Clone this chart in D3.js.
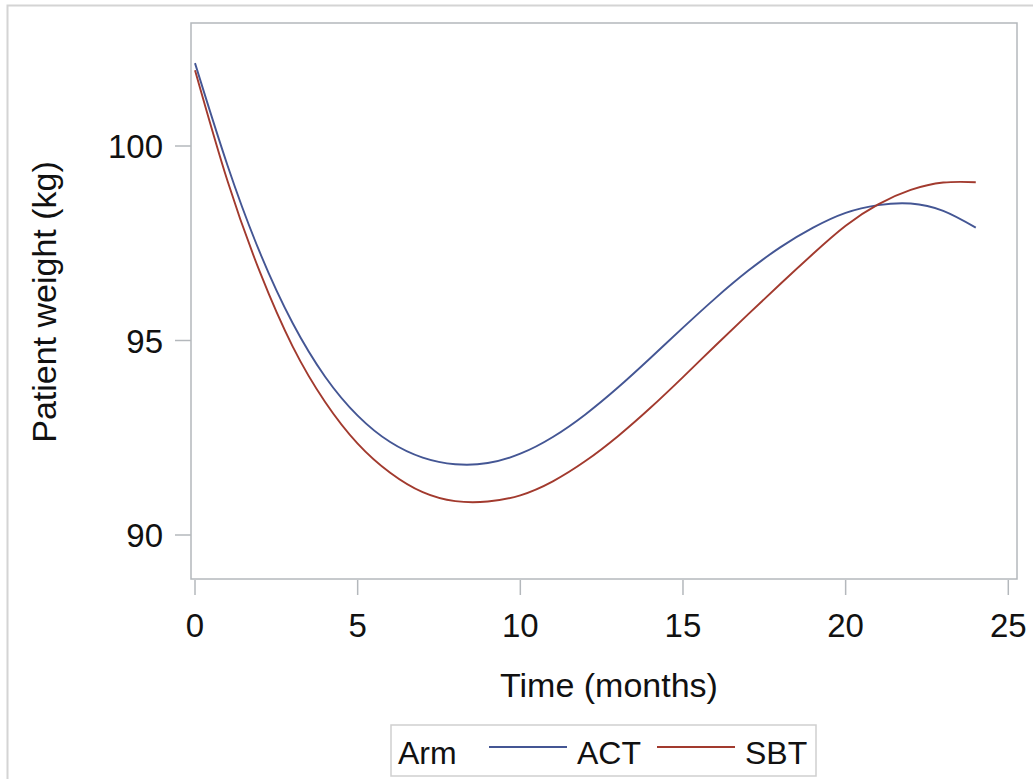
<!DOCTYPE html>
<html>
<head>
<meta charset="utf-8">
<script src="https://cdn.jsdelivr.net/npm/d3@7"></script>
<style>
  html, body { margin: 0; padding: 0; background: #fff; }
  svg text { font-family: "Liberation Sans", Arial, sans-serif; fill: #111; }
</style>
</head>
<body>
<div id="chart"></div>
<script>
// Months where the fitted curves were read
const months = [0, 1, 2, 3, 4, 5, 6, 7, 8, 9, 10, 11, 12, 13, 14, 15, 16, 17, 18, 19, 20, 21, 22, 23, 24];
// Arm ACT fitted patient weight (kg)
const actWeight = [102.13, 99.50, 97.25, 95.45, 94.07, 93.07, 92.39, 91.99, 91.82, 91.85, 92.09, 92.52, 93.10,
  93.79, 94.55, 95.33, 96.09, 96.79, 97.40, 97.90, 98.28, 98.48, 98.52, 98.33, 97.90];
// Arm SBT fitted patient weight (kg)
const sbtWeight = [101.95, 99.10, 96.75, 94.85, 93.42, 92.35, 91.60, 91.10, 90.87, 90.86, 91.02, 91.38, 91.90,
  92.54, 93.27, 94.06, 94.87, 95.67, 96.46, 97.23, 97.95, 98.50, 98.87, 99.06, 99.07];

const xTicks = [0, 5, 10, 15, 20, 25];
const yTicks = [90, 95, 100];
const armNames = ['ACT', 'SBT'];
const armColors = ['#445694', '#A23A2E'];

const width = 1033;
const height = 779;
// plot frame
const frame = {left: 191, top: 23, right: 1017, bottom: 579};

const svg = d3.select('#chart').append('svg')
  .attr('width', width)
  .attr('height', height);

// outer graph border (runs off the right/bottom edge)
svg.append('rect')
  .attr('x', 7.5).attr('y', 5.5)
  .attr('width', width + 20).attr('height', height + 20)
  .style('fill', 'none')
  .style('stroke', '#d4d4d4')
  .style('stroke-width', 2);

const xScale = d3.scaleLinear()
  .domain([0, 25])
  .range([195, 1008.3]);
const yScale = d3.scaleLinear()
  .domain([90, 100])
  .range([535, 146]);

// plot frame
svg.append('rect')
  .attr('x', frame.left).attr('y', frame.top)
  .attr('width', frame.right - frame.left).attr('height', frame.bottom - frame.top)
  .style('fill', 'none')
  .style('stroke', '#b4b8bc')
  .style('stroke-width', 1.5);

// x axis ticks + labels
const xAxis = svg.append('g').attr('class', 'x axis');
xAxis.selectAll('line')
  .data(xTicks)
  .enter().append('line')
  .attr('x1', (d) => xScale(d)).attr('x2', (d) => xScale(d))
  .attr('y1', frame.bottom + 1).attr('y2', frame.bottom + 16)
  .style('stroke', '#b4b8bc').style('stroke-width', 1.5);
xAxis.selectAll('text')
  .data(xTicks)
  .enter().append('text')
  .attr('x', (d) => xScale(d))
  .attr('y', 637)
  .attr('text-anchor', 'middle')
  .style('font-size', '33px')
  .text((d) => d);

// y axis ticks + labels
const yAxis = svg.append('g').attr('class', 'y axis');
yAxis.selectAll('line')
  .data(yTicks)
  .enter().append('line')
  .attr('x1', frame.left - 16).attr('x2', frame.left)
  .attr('y1', (d) => yScale(d)).attr('y2', (d) => yScale(d))
  .style('stroke', '#b4b8bc').style('stroke-width', 1.5);
yAxis.selectAll('text')
  .data(yTicks)
  .enter().append('text')
  .attr('x', frame.left - 28)
  .attr('y', (d) => yScale(d) + 12)
  .attr('text-anchor', 'end')
  .style('font-size', '33px')
  .text((d) => d);

// axis titles
svg.append('text')
  .attr('x', (frame.left + frame.right) / 2 + 5)
  .attr('y', 697)
  .attr('text-anchor', 'middle')
  .style('font-size', '34px')
  .text('Time (months)');
svg.append('text')
  .attr('transform', 'translate(56,' + ((frame.top + frame.bottom) / 2 + 1) + ') rotate(-90)')
  .attr('text-anchor', 'middle')
  .style('font-size', '34px')
  .text('Patient weight (kg)');

// curves
const line = d3.line()
  .x((d) => xScale(d[0]))
  .y((d) => yScale(d[1]))
  .curve(d3.curveNatural);

const series = [actWeight, sbtWeight].map((vals) => months.map((m, i) => [m, vals[i]]));
svg.selectAll('.arm-line')
  .data(series)
  .enter().append('path')
  .attr('class', 'arm-line')
  .attr('d', line)
  .style('fill', 'none')
  .style('stroke', (d, i) => armColors[i])
  .style('stroke-width', 1.9);

// legend
const legend = svg.append('g').attr('class', 'legend');
legend.append('rect')
  .attr('x', 391).attr('y', 725)
  .attr('width', 425).attr('height', 51)
  .style('fill', 'none')
  .style('stroke', '#cfcfcf')
  .style('stroke-width', 1.5);
legend.append('text')
  .attr('x', 398).attr('y', 764)
  .style('font-size', '32px')
  .text('Arm');
const items = legend.selectAll('.legend-item')
  .data(armNames)
  .enter().append('g')
  .attr('class', 'legend-item')
  .attr('transform', (d, i) => 'translate(' + (489 + i * 168) + ',0)');
items.append('line')
  .attr('x1', 0).attr('x2', 78)
  .attr('y1', 747).attr('y2', 747)
  .style('stroke', (d, i) => armColors[i])
  .style('stroke-width', 1.9);
items.append('text')
  .attr('x', 88).attr('y', 764)
  .style('font-size', '32px')
  .text((d) => d);
</script>
</body>
</html>
